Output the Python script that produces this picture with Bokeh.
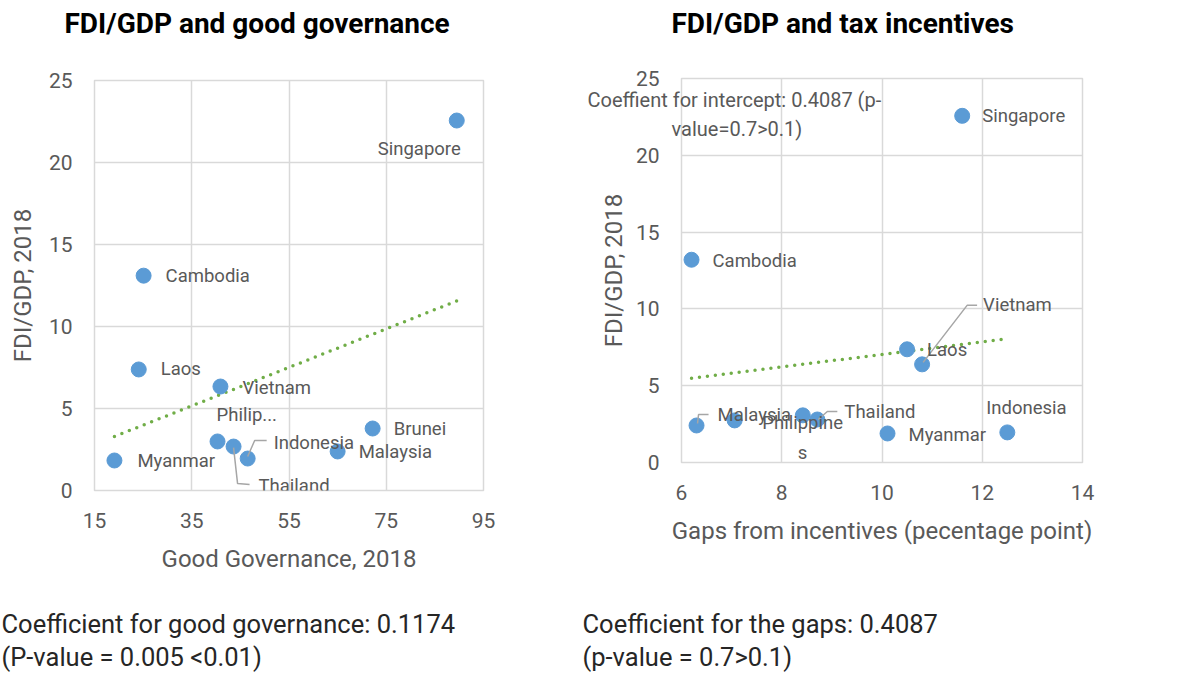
from bokeh.plotting import figure
from bokeh.layouts import row, column
from bokeh.models import Label, Range1d, FixedTicker, Title
from bokeh.embed import file_html
from bokeh.resources import INLINE

# ---------------- data ----------------
gov_countries = ["Singapore", "Cambodia", "Laos", "Vietnam", "Philippines",
                 "Thailand", "Indonesia", "Malaysia", "Brunei", "Myanmar"]
gov_labels = ["Singapore", "Cambodia", "Laos", "Vietnam", "Philip...",
              "Thailand", "Indonesia", "Malaysia", "Brunei", "Myanmar"]
gov_x = [89.5, 25.1, 24.1, 40.9, 40.3, 43.6, 46.5, 65.0, 72.2, 19.1]
gov_y = [22.56, 13.1, 7.38, 6.34, 2.99, 2.68, 1.95, 2.38, 3.78, 1.83]
gov_slope, gov_intercept = 0.1174, 1.05

tax_countries = ["Singapore", "Cambodia", "Laos", "Vietnam", "Malaysia",
                 "Philippines", "Brunei", "Thailand", "Myanmar", "Indonesia"]
tax_x = [11.6, 6.2, 10.5, 10.8, 6.3, 7.06, 8.42, 8.71, 10.11, 12.5]
tax_y = [22.57, 13.2, 7.37, 6.39, 2.41, 2.74, 3.07, 2.8, 1.89, 1.96]
tax_slope, tax_intercept = 0.4087, 2.95

gov_xticks = [15, 35, 55, 75, 95]
tax_xticks = [6, 8, 10, 12, 14]
yticks = [0, 5, 10, 15, 20, 25]

FONT = "Roboto"
GRAY = "#595959"
DARK = "#262626"
BLUE = "#5B9BD5"
GREEN = "#70AD47"
GRID = "#D9D9D9"
LEADER = "#A6A6A6"
EM = 1.171  # Roboto ascent + descent


def make_fig(width, height, xr, xticks, border, xtitle, ystand):
    p = figure(width=width, height=height, output_backend="svg", title=None,
               toolbar_location=None, x_range=Range1d(*xr), y_range=Range1d(0, 25),
               min_border_left=border[0], min_border_right=border[1],
               min_border_top=border[2], min_border_bottom=border[3])
    p.outline_line_color = GRID
    p.outline_line_width = 1.5
    for ax in (p.xaxis[0], p.yaxis[0]):
        ax.axis_line_color = None
        ax.major_tick_line_color = None
        ax.minor_tick_line_color = None
        ax.major_tick_out = 0
        ax.major_tick_in = 0
        ax.major_label_text_font = FONT
        ax.major_label_text_font_size = "21px"
        ax.major_label_text_color = GRAY
        ax.axis_label_text_font = FONT
        ax.axis_label_text_font_size = "24px"
        ax.axis_label_text_font_style = "normal"
        ax.axis_label_text_color = GRAY
    p.xaxis.ticker = FixedTicker(ticks=xticks)
    p.yaxis.ticker = FixedTicker(ticks=yticks)
    p.xaxis.axis_label = xtitle
    p.yaxis.axis_label = "FDI/GDP, 2018"
    p.xaxis.major_label_standoff = 22
    p.yaxis.major_label_standoff = 22
    p.xaxis.axis_label_standoff = 14
    p.yaxis.axis_label_standoff = ystand
    p.xgrid.ticker = FixedTicker(ticks=xticks)
    p.ygrid.ticker = FixedTicker(ticks=yticks)
    p.xgrid.grid_line_color = GRID
    p.ygrid.grid_line_color = GRID
    p.xgrid.grid_line_width = 1.5
    p.ygrid.grid_line_width = 1.5
    return p


def lab(p, x, y, text, dx, dy, align="left", size=18.5):
    p.add_layout(Label(x=x, y=y, x_offset=dx, y_offset=dy, text=text,
                       text_font=FONT, text_font_size=f"{size}px", text_color=GRAY,
                       text_align=align, text_baseline="middle"))


def leader(p, x, y, pts, sx, sy):
    # pts: pixel offsets from the data point (dx right, dy up)
    xs = [x + dx / sx for dx, dy in pts]
    ys = [y + dy / sy for dx, dy in pts]
    p.line(xs, ys, line_color=LEADER, line_width=1.5)


def side_text(p, place, text, size, panel_h, offset=0, color=GRAY, style="normal"):
    # a text placed in a side panel of height panel_h (a negative height
    # reaches into the plot area without taking any room)
    h = EM * size
    p.add_layout(Title(text=text, align="left", offset=offset,
                       standoff=panel_h - 2 - h,
                       text_font=FONT, text_font_size=f"{size}px", text_color=color,
                       text_font_style=style), place)


def spacer(p, place, panel_h):
    side_text(p, place, " ", 10, panel_h)


# ---------------- left chart ----------------
LW, LH = 580, 675
Lb = (94, 97, 80, 185)
p1 = make_fig(LW, LH, (15, 95), gov_xticks, Lb, "Good Governance, 2018", 9)
sx1 = (LW - Lb[0] - Lb[1]) / 80.0
sy1 = (LH - Lb[2] - Lb[3]) / 25.0

xmin, xmax = min(gov_x), max(gov_x)
p1.line([xmin, xmax], [gov_intercept + gov_slope * xmin, gov_intercept + gov_slope * xmax],
        line_color=GREEN, line_width=3.5, line_dash="0 8", line_cap="round")
p1.scatter(gov_x, gov_y, size=15, fill_color=BLUE, line_color=BLUE)

gov_off = {
    "Singapore": (4, -28, "right"),
    "Cambodia": (22, 0, "left"),
    "Laos": (22, 0, "left"),
    "Vietnam": (22, -1, "left"),
    "Philippines": (-1, 26, "left"),
    "Thailand": (25, -39, "left"),
    "Indonesia": (26, 16, "left"),
    "Malaysia": (21, -1, "left"),
    "Brunei": (21, 0, "left"),
    "Myanmar": (23, -1, "left"),
}
for c, t, x, y in zip(gov_countries, gov_labels, gov_x, gov_y):
    dx, dy, al = gov_off[c]
    lab(p1, x, y, t, dx, dy, al)
    if c == "Thailand":
        leader(p1, x, y, [(0, -1), (4, -37), (16, -38)], sx1, sy1)
    if c == "Indonesia":
        leader(p1, x, y, [(19, 18), (7, 18), (0, 2)], sx1, sy1)

# above: spacer then title
spacer(p1, "above", 58)
side_text(p1, "above", "FDI/GDP and good governance", 28, 2, -30, "#000000", "bold")
# below (after the axis): spacer, line 1, spacer, line 2
spacer(p1, "below", 47.5)
side_text(p1, "below", "Coefficient for good governance: 0.1174", 25.5, 2, -93, DARK)
spacer(p1, "below", 32)
side_text(p1, "below", "(P-value = 0.005 <0.01)", 25.5, 2, -93, DARK)

# ---------------- right chart ----------------
RW, RH = 609, 675
Rb = (101, 107, 78, 213)
p2 = make_fig(RW, RH, (6, 14), tax_xticks, Rb, "Gaps from incentives (pecentage point)", 5)
sx2 = (RW - Rb[0] - Rb[1]) / 8.0
sy2 = (RH - Rb[2] - Rb[3]) / 25.0

xmin2, xmax2 = min(tax_x), max(tax_x)
p2.line([xmin2, xmax2], [tax_intercept + tax_slope * xmin2, tax_intercept + tax_slope * xmax2],
        line_color=GREEN, line_width=3.5, line_dash="0 8", line_cap="round")
p2.scatter(tax_x, tax_y, size=15, fill_color=BLUE, line_color=BLUE)

tax_off = {
    "Singapore": [(20, 0, "left", "Singapore")],
    "Cambodia": [(21, -1, "left", "Cambodia")],
    "Laos": [(20, -1, "left", "Laos")],
    "Vietnam": [(61, 59, "left", "Vietnam")],
    "Malaysia": [(21, 10, "left", "Malaysia")],
    "Philippines": [(68, -3, "center", "Philippine"), (68, -33, "center", "s")],
    "Brunei": [],
    "Thailand": [(27, 7, "left", "Thailand")],
    "Myanmar": [(21, -2, "left", "Myanmar")],
    "Indonesia": [(-21, 24, "left", "Indonesia")],
}
for c, x, y in zip(tax_countries, tax_x, tax_y):
    for dx, dy, al, t in tax_off[c]:
        lab(p2, x, y, t, dx, dy, al)
    if c == "Vietnam":
        leader(p2, x, y, [(55, 59), (45, 59), (1, 2)], sx2, sy2)
    if c == "Malaysia":
        leader(p2, x, y, [(12, 11), (2, 11), (1, 2)], sx2, sy2)
    if c == "Thailand":
        leader(p2, x, y, [(20, 8), (10, 8), (1, 0)], sx2, sy2)

# above: the two note lines reach into the plot area, then spacer and title
side_text(p2, "above", "Coeffient for intercept: 0.4087 (p-", 20, -42, -94)
side_text(p2, "above", "value=0.7>0.1)", 20, -100, -10)
spacer(p2, "above", 56)
side_text(p2, "above", "FDI/GDP and tax incentives", 28, 2, -10, "#000000", "bold")
# below
spacer(p2, "below", 75.5)
side_text(p2, "below", "Coefficient for the gaps: 0.4087", 25.5, 2, -99, DARK)
spacer(p2, "below", 32)
side_text(p2, "below", "(p-value = 0.7>0.1)", 25.5, 2, -99, DARK)

layout = row(column(p1), column(p2))
open("out.html", "w").write(file_html(layout, INLINE))
